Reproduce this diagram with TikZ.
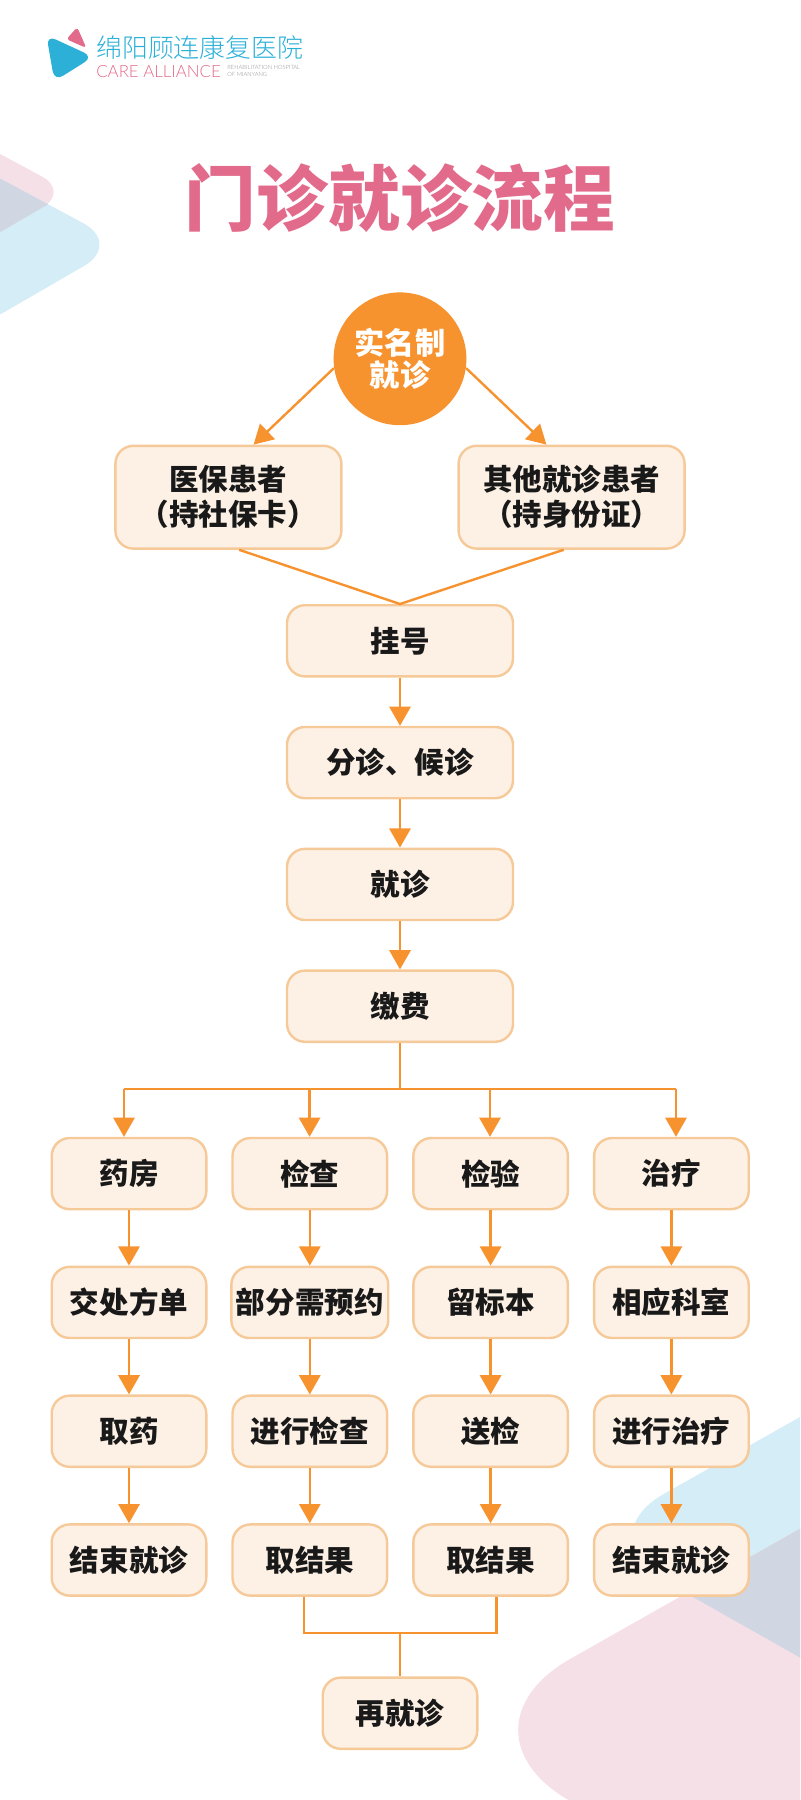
\documentclass[tikz,border=0pt]{standalone}
\usepackage{fontspec}
\usepackage{tikz}
\usepackage{xcolor}
\usetikzlibrary{arrows.meta,positioning,shapes.geometric}
\setmainfont{Noto Sans CJK SC}
\newfontfamily\thinfont{Noto Sans CJK SC Light}
\newfontfamily\latinfont{Lato Light}
\definecolor{flowline}{HTML}{F7932F}
\definecolor{boxline}{HTML}{F6C998}
\definecolor{boxfill}{HTML}{FDF1E6}
\definecolor{brandpink}{HTML}{E26A8B}
\definecolor{brandblue}{HTML}{2CB0D8}
\definecolor{palepink}{HTML}{F6E0E8}
\definecolor{paleblue}{HTML}{D5EDF6}
\definecolor{palegrey}{HTML}{D1D6E3}

\begin{document}
\begin{tikzpicture}[
box/.style={draw=boxline,fill=boxfill,line width=0.06cm,rounded corners=0.45cm,align=center,minimum height=1.78cm,minimum width=5.65cm,font=\fontsize{21}{24.8}\selectfont\bfseries,text=black!90},
tallbox/.style={box,minimum height=2.57cm},
smallbox/.style={box,minimum width=3.865cm},
arrow/.style={draw=flowline,line width=0.06cm,-{Triangle[length=0.48cm,width=0.53cm,fill=flowline]}},
link/.style={draw=flowline,line width=0.06cm}
]
\useasboundingbox (0,0) rectangle (20,-45);
% background shapes
\begin{scope}
\clip (0,0) rectangle (20,-45);
\fill[palepink,rounded corners=0.8cm] (-3,-2.23) -- (1.75,-4.79) -- (-3,-7.55) -- cycle;
\fill[paleblue,rounded corners=1.1cm] (-3,-2.85) -- (3.05,-6.1) -- (-3,-9.6) -- cycle;
\begin{scope}
\clip (-3,-2.23) -- (1.75,-4.79) -- (-3,-7.55) -- cycle;
\fill[palegrey,rounded corners=1.1cm] (-3,-2.85) -- (3.05,-6.1) -- (-3,-9.6) -- cycle;
\end{scope}
\fill[paleblue,rounded corners=2.2cm] (23,-33.73) -- (14.68,-38.43) -- (24,-43.7) -- cycle;
\fill[palepink,rounded corners=3.6cm] (27,-34.25) -- (11.12,-43.25) -- (27,-52.25) -- cycle;
\begin{scope}
\clip[rounded corners=2.2cm] (23,-33.73) -- (14.68,-38.43) -- (24,-43.7) -- cycle;
\fill[palegrey,rounded corners=3.6cm] (27,-34.25) -- (11.12,-43.25) -- (27,-52.25) -- cycle;
\end{scope}
\end{scope}
% logo
\fill[brandblue,rounded corners=0.25cm] (1.16,-0.88) -- (2.33,-1.42) -- (1.36,-2.03) -- cycle;
\fill[brandpink,rounded corners=0.08cm] (1.66,-0.98) -- (1.93,-0.68) -- (2.16,-1.2) -- cycle;
\node[anchor=west,inner sep=0,text=brandblue,font=\thinfont\fontsize{18.4}{20}\selectfont] (hospital) at (2.4,-1.2) {绵阳顾连康复医院};
\node[anchor=west,inner sep=0,text=brandpink,font=\latinfont\fontsize{12}{14}\selectfont] (care) at (2.4,-1.78) {CARE ALLIANCE};
\node[anchor=west,inner sep=0,align=left,text=black!45,font=\latinfont\fontsize{4.1}{4.9}\selectfont] (rehab) at (5.68,-1.78) {REHABILITATION HOSPITAL\\OF MIANYANG};
% title
\node[text=brandpink,font=\fontsize{51}{55}\selectfont\bfseries] (title) at (10,-4.95) {门诊就诊流程};
% top of the flow
\node[circle,fill=flowline,minimum size=3.32cm,inner sep=0,align=center,text=white,font=\fontsize{21.5}{23.4}\selectfont\bfseries] (start) at (10,-8.97) {实名制\\就诊};
\node[tallbox] (insured) at (5.71,-12.43) {医保患者\\（持社保卡）};
\node[tallbox] (others) at (14.29,-12.43) {其他就诊患者\\（持身份证）};
\node[box] (register) at (10,-16.02) {挂号};
\node[box,below=1.205cm of register] (triage) {分诊、候诊};
\node[box,below=1.205cm of triage] (visit) {就诊};
\node[box,below=1.205cm of visit] (pay) {缴费};
% four columns
\node[smallbox] (drug) at (3.225,-29.34) {药房};
\node[smallbox,right=0.595cm of drug] (exam) {检查};
\node[smallbox,right=0.595cm of exam] (lab) {检验};
\node[smallbox,right=0.595cm of lab] (treat) {治疗};
\node[smallbox,below=1.38cm of drug] (order) {交处方单};
\node[smallbox,below=1.38cm of exam] (book) {部分需预约};
\node[smallbox,below=1.38cm of lab] (sample) {留标本};
\node[smallbox,below=1.38cm of treat] (dept) {相应科室};
\node[smallbox,below=1.38cm of order] (fetch) {取药};
\node[smallbox,below=1.38cm of book] (doexam) {进行检查};
\node[smallbox,below=1.38cm of sample] (send) {送检};
\node[smallbox,below=1.38cm of dept] (dotreat) {进行治疗};
\node[smallbox,below=1.38cm of fetch] (enddrug) {结束就诊};
\node[smallbox,below=1.38cm of doexam] (resexam) {取结果};
\node[smallbox,below=1.38cm of send] (reslab) {取结果};
\node[smallbox,below=1.38cm of dotreat] (endtreat) {结束就诊};
\node[smallbox] (again) at (10,-42.83) {再就诊};
% joints
\coordinate (bus) at (10,-27.22);
\coordinate (busdrug) at (3.1,-27.22);
\coordinate (busexam) at (7.74,-27.22);
\coordinate (buslab) at (12.25,-27.22);
\coordinate (bustreat) at (16.9,-27.22);
\coordinate (merge) at (10,-40.83);
% connectors
\draw[arrow] (start.188) -- ([xshift=0.63cm]insured.north);
\draw[arrow] (start.-8) -- ([xshift=-0.63cm]others.north);
\coordinate (meet) at (register.north);
\draw[link] ([xshift=0.27cm]insured.south) -- (meet) -- ([xshift=-0.2cm]others.south);
\draw[arrow] (register) -- (triage);
\draw[arrow] (triage) -- (visit);
\draw[arrow] (visit) -- (pay);
\draw[link] (pay) -- (bus);
\draw[link] (busdrug) -- (bustreat);
\draw[arrow] (busdrug) -- (busdrug |- drug.north);
\draw[arrow] (busexam) -- (busexam |- exam.north);
\draw[arrow] (buslab) -- (buslab |- lab.north);
\draw[arrow] (bustreat) -- (bustreat |- treat.north);
\draw[arrow] (drug) -- (order);
\draw[arrow] (order) -- (fetch);
\draw[arrow] (fetch) -- (enddrug);
\draw[arrow] (exam) -- (book);
\draw[arrow] (book) -- (doexam);
\draw[arrow] (doexam) -- (resexam);
\draw[arrow] (lab) -- (sample);
\draw[arrow] (sample) -- (send);
\draw[arrow] (send) -- (reslab);
\draw[arrow] (treat) -- (dept);
\draw[arrow] (dept) -- (dotreat);
\draw[arrow] (dotreat) -- (endtreat);
\draw[link] ([xshift=-0.15cm]resexam.south) |- (merge) -| ([xshift=0.15cm]reslab.south);
\draw[link] (merge) -- (again);
\end{tikzpicture}
\end{document}
